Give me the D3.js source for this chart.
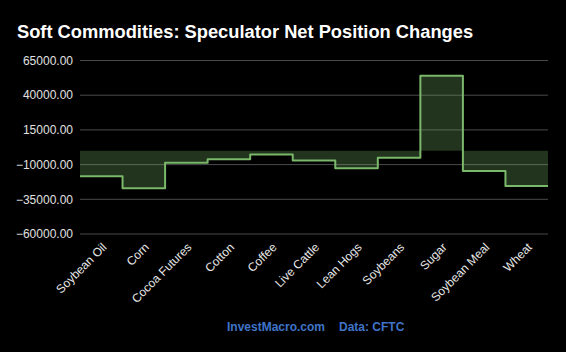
<!DOCTYPE html>
<html>
<head>
<meta charset="utf-8">
<script src="https://cdn.jsdelivr.net/npm/d3@7"></script>
<style>
  html, body { margin: 0; padding: 0; background: #000; }
  svg { display: block; }
</style>
</head>
<body>
<svg id="chart"></svg>
<script>
// categories and net position changes
var categories = ["Soybean Oil", "Corn", "Cocoa Futures", "Cotton", "Coffee", "Live Cattle",
                  "Lean Hogs", "Soybeans", "Sugar", "Soybean Meal", "Wheat"];
var changes = [-18400, -27100, -8700, -6200, -2800, -7100, -12700, -5000, 54100, -14600, -25400];
var yTicks = [65000, 40000, 15000, -10000, -35000, -60000];

var width = 566, height = 352;
var margin = {top: 60.5, right: 18, bottom: 118, left: 80};
var plotW = width - margin.left - margin.right,
    plotH = height - margin.top - margin.bottom;

var svg = d3.select("#chart")
    .attr("width", width)
    .attr("height", height);

svg.append("rect").attr("width", width).attr("height", height).attr("fill", "#000");

svg.append("text")
    .attr("x", 17)
    .attr("y", 38)
    .attr("fill", "#fff")
    .style("font-family", "Liberation Sans, Arial, sans-serif")
    .style("font-weight", "bold")
    .style("font-size", "18.3px")
    .text("Soft Commodities: Speculator Net Position Changes");

var g = svg.append("g")
    .attr("transform", "translate(" + margin.left + "," + margin.top + ")");

var x = d3.scaleBand().domain(categories).range([0, plotW]);
var y = d3.scaleLinear().domain([-60000, 65000]).range([plotH, 0]);

// grid lines + y labels
g.selectAll("line.grid")
    .data(yTicks)
    .enter()
    .append("line")
    .attr("class", "grid")
    .attr("x1", 0).attr("x2", plotW)
    .attr("y1", function(d) { return y(d); })
    .attr("y2", function(d) { return y(d); })
    .attr("stroke", "#4a4a4a")
    .attr("stroke-width", 1);

g.selectAll("text.ylab")
    .data(yTicks)
    .enter()
    .append("text")
    .attr("class", "ylab")
    .attr("x", -7)
    .attr("y", function(d) { return y(d); })
    .attr("dy", "0.35em")
    .attr("text-anchor", "end")
    .attr("fill", "#e0e0e0")
    .style("font-family", "Liberation Sans, Arial, sans-serif")
    .style("font-size", "12px")
    .text(function(d) { return d3.format(".2f")(d); });

// step points: start of each band, plus the right edge
var pts = categories.map(function(c, i) { return {x: x(c), v: changes[i]}; });
pts.push({x: plotW, v: changes[changes.length - 1]});

var area = d3.area()
    .x(function(d) { return d.x; })
    .y0(y(0))
    .y1(function(d) { return y(d.v); })
    .curve(d3.curveStepAfter);

var line = d3.line()
    .x(function(d) { return d.x; })
    .y(function(d) { return y(d.v); })
    .curve(d3.curveStepAfter);

g.append("path")
    .datum(pts)
    .attr("d", area)
    .attr("fill", "#7ab86a")
    .attr("fill-opacity", 0.28);

g.append("path")
    .datum(pts)
    .attr("d", line)
    .attr("fill", "none")
    .attr("stroke", "#7ab86a")
    .attr("stroke-width", 2)
    .attr("stroke-linejoin", "round");

// rotated category labels
g.selectAll("text.xlab")
    .data(categories)
    .enter()
    .append("text")
    .attr("class", "xlab")
    .attr("transform", function(d) {
        return "translate(" + (x(d) + x.bandwidth() / 2 + 6) + "," + (plotH + 14) + ") rotate(-45)";
    })
    .attr("text-anchor", "end")
    .attr("fill", "#e8e8e8")
    .style("font-family", "Liberation Sans, Arial, sans-serif")
    .style("font-size", "12px")
    .text(function(d) { return d; });

// footer
var foot = svg.append("text")
    .attr("y", 331)
    .attr("fill", "#3f74c9")
    .style("font-family", "Liberation Sans, Arial, sans-serif")
    .style("font-weight", "bold")
    .style("font-size", "12px");
foot.append("tspan").attr("x", 227).text("InvestMacro.com");
foot.append("tspan").attr("x", 339).text("Data: CFTC");
</script>
</body>
</html>
